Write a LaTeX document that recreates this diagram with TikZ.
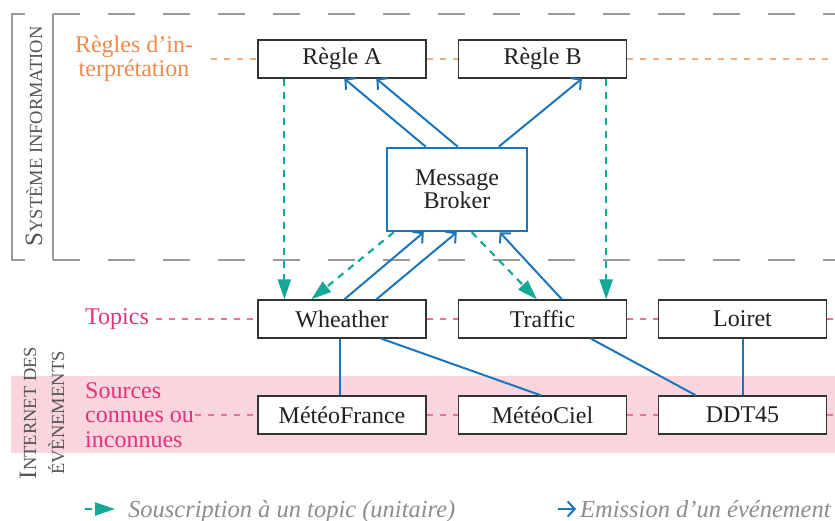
\documentclass[tikz,border=0pt]{standalone}
\usepackage{fontspec}
\setmainfont{Liberation Serif}
\usetikzlibrary{arrows.meta}
\definecolor{tealc}{HTML}{14A898}
\definecolor{bluec}{HTML}{1B75BC}
\definecolor{orangec}{HTML}{F08A4B}
\definecolor{orangel}{HTML}{F5AE80}
\definecolor{magc}{HTML}{E5307B}
\definecolor{magl}{HTML}{EE6FA0}
\definecolor{pinkb}{HTML}{F9D5DE}
\definecolor{framec}{HTML}{9A9A9A}
\definecolor{vtext}{HTML}{555555}
\definecolor{legt}{HTML}{8C8C8C}
\newcommand\bigf{\fontsize{24}{26}\selectfont}
\newcommand\scS[1]{{\fontsize{25}{28}\selectfont #1}}
\newcommand\scs[1]{{\fontsize{18.5}{28}\selectfont #1}}
\tikzset{
  box/.style={draw=black!80, line width=1.3pt, fill=white, minimum width=168pt, minimum height=38pt, inner sep=0pt, font=\bigf, text=black!87},
  sub/.style={draw=tealc, line width=2.2pt, dash pattern=on 7pt off 6pt, -{Triangle[length=20pt,width=13pt]}, tealc},
  emi/.style={draw=bluec, line width=2pt, -{Straight Barb[length=7pt,width=15pt]}},
  lnk/.style={draw=bluec, line width=2pt},
  odash/.style={draw=orangel, line width=1.2pt, dash pattern=on 6pt off 7pt},
  mdash/.style={draw=magl, line width=1.2pt, dash pattern=on 6pt off 7pt},
  gframe/.style={draw=framec, line width=2pt},
}
\begin{document}
\begin{tikzpicture}[x=1pt,y=-1pt]
\useasboundingbox (0,0) rectangle (835,521);
% pink band
\fill[pinkb] (11,376) rectangle (835,453);
% gray frame
\draw[gframe] (25,14) -- (12,14) -- (12,260) -- (25,260);
\draw[gframe] (53,14) -- (53,260);
\draw[gframe, dash pattern=on 27pt off 28pt] (53,14) -- (835,14);
\draw[gframe, dash pattern=on 27pt off 28pt] (53,260) -- (835,260);
% vertical labels
\node[rotate=90, anchor=base, text=vtext, inner sep=0pt] (si) at (42,136.5) {\scS{S}\scs{YSTÈME INFORMATION}};
\node[rotate=90, text=vtext, align=center, inner sep=0pt, font=\fontsize{18.5}{28}\selectfont] (ie) at (42,413) {\scS{I}\scs{NTERNET DES}\\\scs{ÉVÈNEMENTS}};
% boxes
\node[box] (ra) at (342,59) {Règle A};
\node[box] (rb) at (542.5,59) {Règle B};
\node[draw=bluec, line width=2.5pt, fill=white, minimum width=140pt, minimum height=83pt, inner sep=0pt, align=center, text=black!87, font=\fontsize{24}{20}\selectfont] (mb) at (457,189.5) {Message\\Broker};
\node[box] (wh) at (342,319) {Wheather};
\node[box] (tr) at (542.5,319) {Traffic};
\node[box] (lo) at (742.5,319) {Loiret};
\node[box] (mf) at (342,415) {MétéoFrance};
\node[box] (mc) at (542.5,415) {MétéoCiel};
\node[box] (dd) at (742.5,415) {DDT45};
% side labels
\node[text=orangec, align=center, font=\fontsize{24}{24}\selectfont, inner sep=0pt] (lr) at (134,59) {Règles d’in-\\terprétation};
\node[text=magc, anchor=west, font=\bigf, inner sep=0pt] (lt) at (85,319) {Topics};
\node[text=magc, anchor=west, align=left, font=\fontsize{24}{24.5}\selectfont, inner sep=0pt] (ls) at (85,415) {Sources\\connues ou\\inconnues};
\coordinate (rend) at (835,59);
\coordinate (tend) at (835,319);
\coordinate (send) at (835,415);
% dashed guide lines
\draw[odash] ([xshift=18pt]lr.east) -- (ra.west);
\draw[odash] (ra.east) -- (rb.west);
\draw[odash] (rb.east) -- (rend);
\draw[mdash] ([xshift=7pt]lt.east) -- (wh.west);
\draw[mdash] (wh.east) -- (tr.west);
\draw[mdash] (tr.east) -- (lo.west);
\draw[mdash] (lo.east) -- (tend);
\draw[mdash] ([xshift=1pt]ls.east) -- (mf.west);
\draw[mdash] (mf.east) -- (mc.west);
\draw[mdash] (mc.east) -- (dd.west);
\draw[mdash] (dd.east) -- (send);
% subscriptions
\draw[sub] ([xshift=27pt]ra.south west) -- ([xshift=27pt]wh.north west);
\draw[sub] ([xshift=-21pt]rb.south east) -- ([xshift=-21pt]tr.north east);
\draw[sub] ([xshift=8pt]mb.south west) -- ([xshift=54pt]wh.north west);
\draw[sub] ([xshift=86pt]mb.south west) -- ([xshift=79pt]tr.north west);
% emissions
\draw[emi] ([xshift=40pt]mb.north west) -- ([xshift=87pt]ra.south west);
\draw[emi] ([xshift=72pt]mb.north west) -- ([xshift=119pt]ra.south west);
\draw[emi] ([xshift=113pt]mb.north west) -- ([xshift=124pt]rb.south west);
\draw[emi] ([xshift=87pt]wh.north west) -- ([xshift=38pt]mb.south west);
\draw[emi] ([xshift=119pt]wh.north west) -- ([xshift=71pt]mb.south west);
\draw[emi] ([xshift=104pt]tr.north west) -- ([xshift=114pt]mb.south west);
% links
\draw[lnk] ([xshift=83pt]wh.south west) -- ([xshift=83pt]mf.north west);
\draw[lnk] ([xshift=124pt]wh.south west) -- ([xshift=83pt]mc.north west);
\draw[lnk] ([xshift=133pt]tr.south west) -- ([xshift=38pt]dd.north west);
\draw[lnk] (lo.south) -- (dd.north);
% legend
\coordinate (la1) at (85,509);
\coordinate (la2) at (115,509);
\draw[sub] (la1) -- (la2);
\node[anchor=base west, text=legt, font=\fontsize{24.5}{26}\selectfont\itshape, inner sep=0pt] (lg1) at (128,517) {Souscription à un topic (unitaire)};
\coordinate (lb1) at (558,509);
\coordinate (lb2) at (576,509);
\draw[emi] (lb1) -- (lb2);
\node[anchor=base west, text=legt, font=\fontsize{24.5}{26}\selectfont\itshape, inner sep=0pt] (lg2) at (580,517) {Emission d’un événement};
\end{tikzpicture}
\end{document}
